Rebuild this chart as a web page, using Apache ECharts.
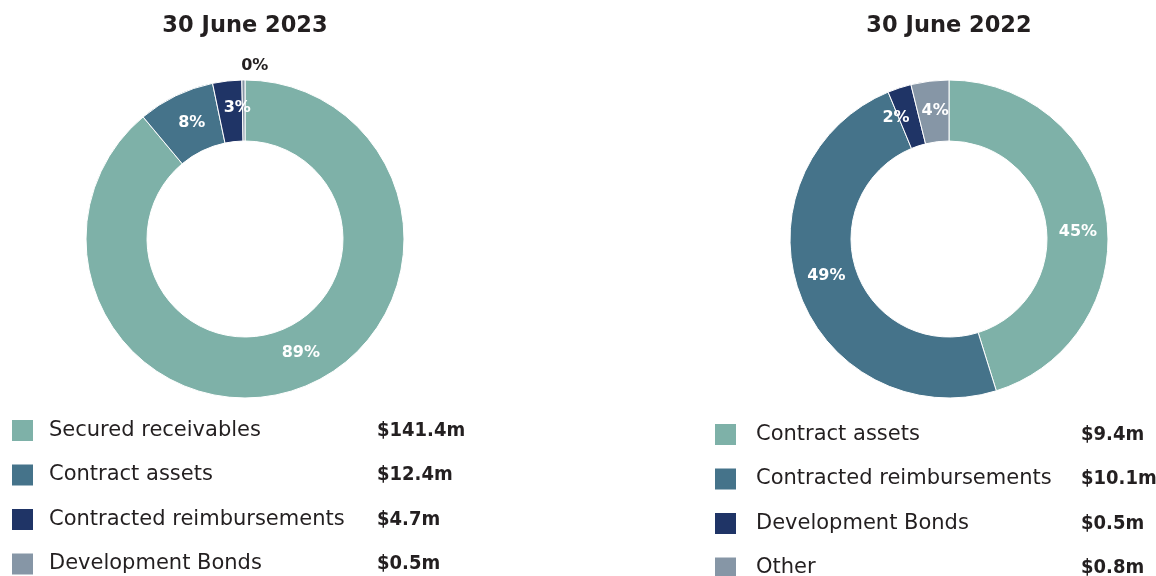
<!DOCTYPE html>
<html>
<head>
<meta charset="utf-8">
<script src="https://cdn.jsdelivr.net/npm/echarts@6/dist/echarts.min.js"></script>
<style>
  html, body { margin: 0; padding: 0; background: #fff; }
  .wrap { position: relative; width: 1156px; height: 576px; }
  .pie { position: absolute; top: 0; width: 578px; height: 576px; }
</style>
</head>
<body>
<div class="wrap">
  <div class="pie" id="left" style="left:0"></div>
  <div class="pie" id="right" style="left:578px"></div>
</div>
<script>
// 30 June 2023
var leftTitle = "30 June 2023";
var leftNames = ["Secured receivables", "Contract assets", "Contracted reimbursements", "Development Bonds"];
var leftValues = [141.4, 12.4, 4.7, 0.5];
var leftColors = ["#7eb1a8", "#45738a", "#1f3466", "#8696a6"];

// 30 June 2022
var rightTitle = "30 June 2022";
var rightNames = ["Contract assets", "Contracted reimbursements", "Development Bonds", "Other"];
var rightValues = [9.4, 10.1, 0.5, 0.8];
var rightColors = ["#7eb1a8", "#45738a", "#1f3466", "#8696a6"];

var fontFam = "'DejaVu Sans', sans-serif";
var valueFam = "'DejaVu Sans Condensed', 'DejaVu Sans', sans-serif";

function drawDonut(el, title, names, values, colors, cx, lg, nudge, outsideIdx) {
  var chart = echarts.init(el);
  var data = names.map(function (n, i) {
    var item = { name: n, value: values[i], itemStyle: { color: colors[i] }, label: { offset: nudge[i] } };
    if (i === outsideIdx) {
      item.label = { position: "outside", color: "#231f20", offset: nudge[i] };
      item.labelLine = { show: false, length: 14, length2: 0 };
    }
    return item;
  });
  var valByName = {};
  names.forEach(function (n, i) { valByName[n] = "$" + values[i] + "m"; });

  var option = {
    title: {
      text: title,
      left: cx,
      top: 15,
      padding: 0,
      textAlign: "center",
      textStyle: { fontFamily: fontFam, fontSize: 22.5, fontWeight: "bold", color: "#231f20" }
    },
    legend: {
      orient: "vertical",
      left: lg.left,
      top: lg.top,
      height: 200,
      padding: 0,
      icon: "rect",
      itemWidth: 23,
      itemHeight: 23,
      itemGap: lg.gap,
      selectedMode: false,
      data: names,
      formatter: function (name) {
        return "{n|" + name + "}{v|" + valByName[name] + "}";
      },
      textStyle: {
        fontFamily: fontFam,
        padding: [0, 0, 0, lg.pad],
        lineHeight: 23,
        rich: {
          n: { fontFamily: fontFam, fontSize: 21, color: "#231f20", width: lg.nameWidth, lineHeight: 23 },
          v: { fontFamily: valueFam, fontSize: 20, fontWeight: "bold", color: "#231f20", lineHeight: 23 }
        }
      }
    },
    series: [{
      type: "pie",
      center: [cx, 239],
      radius: [98, 159],
      startAngle: 90,
      clockwise: true,
      percentPrecision: 0,
      avoidLabelOverlap: false,
      itemStyle: { borderColor: "#fff", borderWidth: 1 },
      label: {
        show: true,
        position: "inside",
        formatter: "{d}%",
        fontFamily: fontFam,
        fontSize: 16,
        fontWeight: "bold",
        color: "#fff"
      },
      labelLine: { show: false },
      emphasis: { disabled: true },
      data: data
    }]
  };
  chart.setOption(option);
}

drawDonut(document.getElementById("left"), leftTitle, leftNames, leftValues, leftColors, 245,
  { left: 10, top: 418, gap: 19.5, pad: 10, nameWidth: 328 },
  [[11, -10], [4, 2], [7, 0], [30, 0]], 3);
drawDonut(document.getElementById("right"), rightTitle, rightNames, rightValues, rightColors, 371,
  { left: 135, top: 422, gap: 19.5, pad: 14, nameWidth: 325 },
  [[-1, 13], [1, -8], [-12, 4], [2, 2]], -1);
</script>
</body>
</html>
